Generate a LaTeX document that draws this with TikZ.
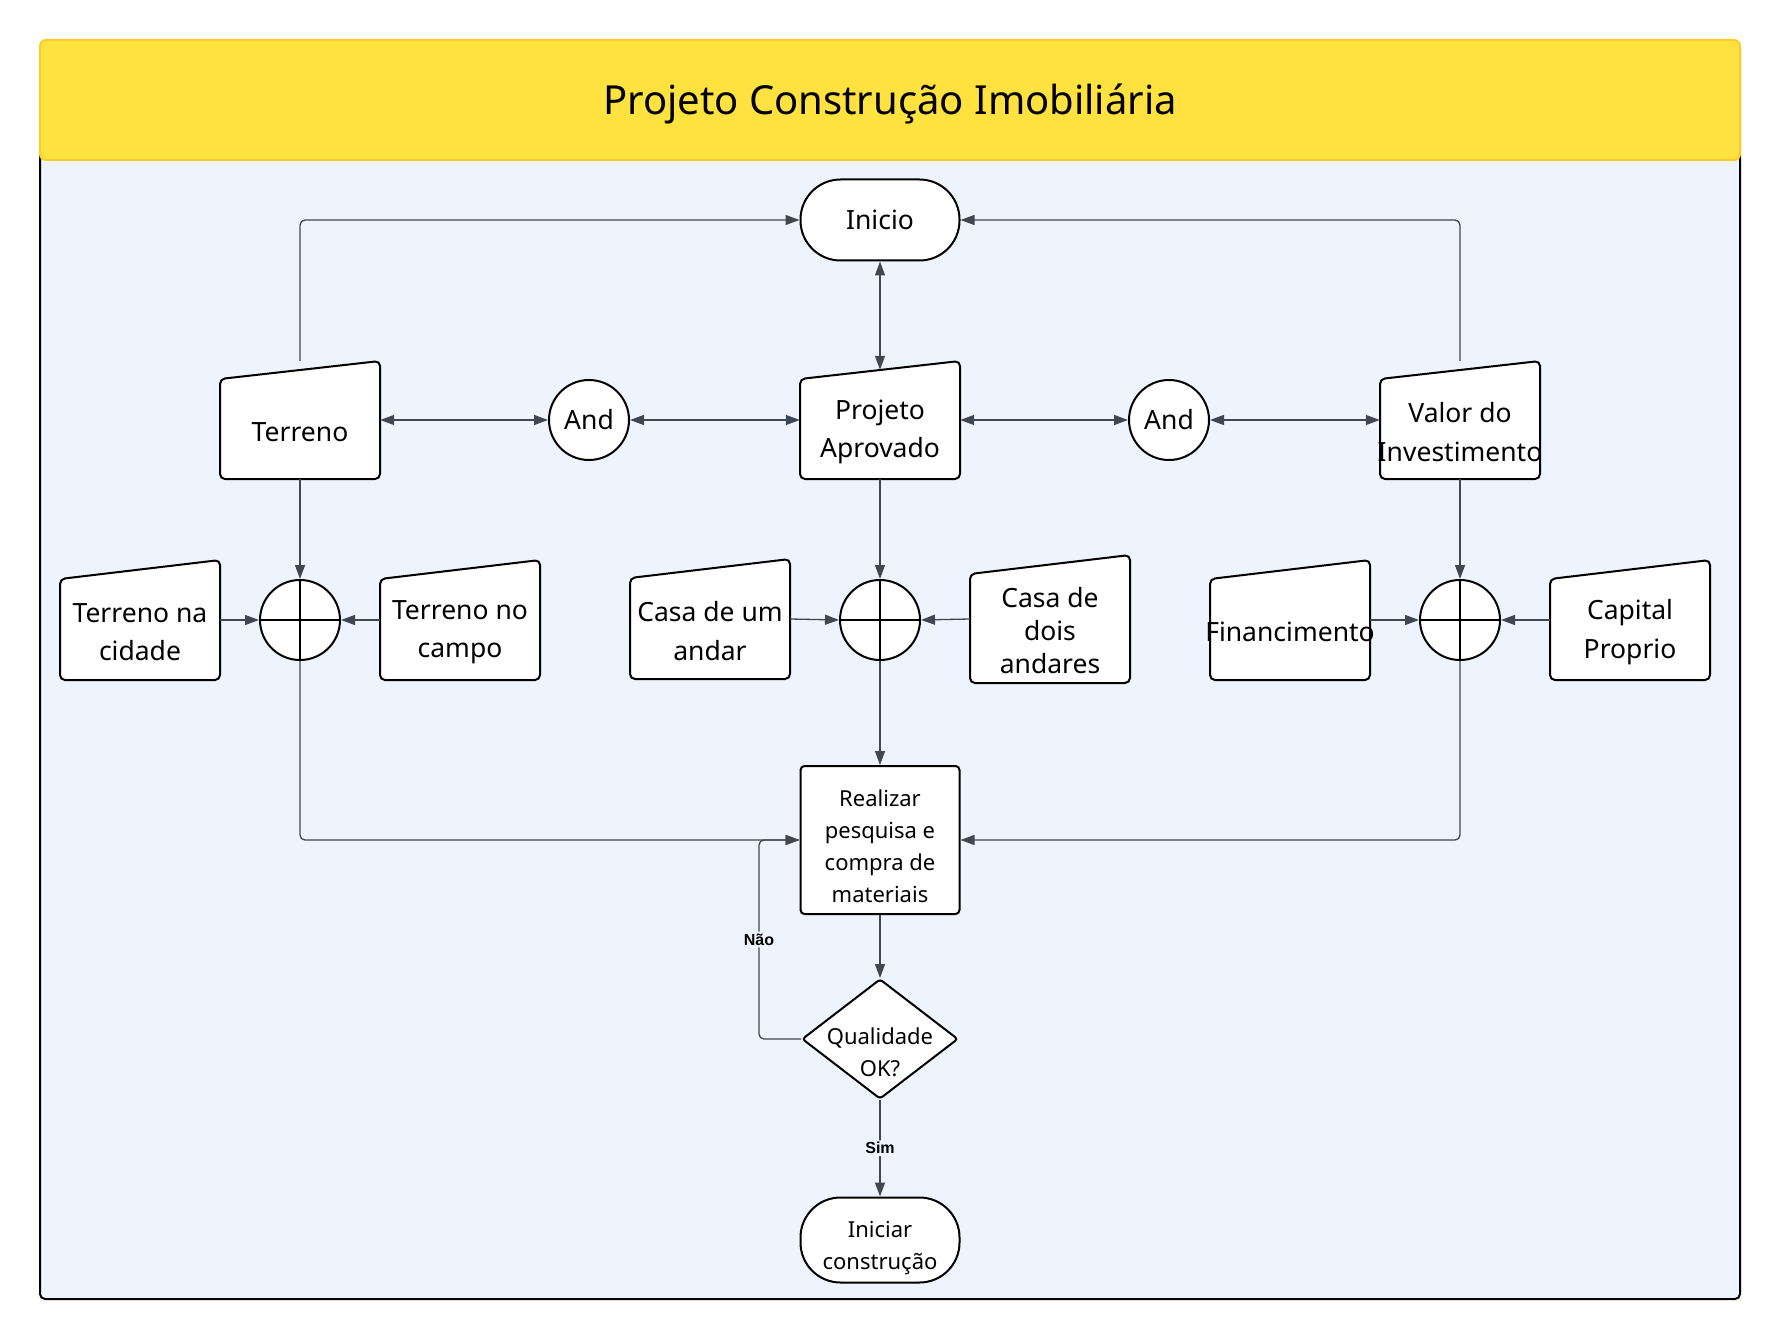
\documentclass[tikz,border=0pt]{standalone}
\usepackage{fontspec}
\setmainfont{Noto Sans}
\newfontfamily\lblfont{Liberation Sans}
\usetikzlibrary{arrows.meta,shapes.geometric,calc}
\definecolor{ttl}{HTML}{FFE13F}
\definecolor{ttlb}{HTML}{FBCB2B}
\definecolor{bgblue}{HTML}{EDF4FE}
\definecolor{ln}{HTML}{3F4753}
\tikzset{
  tip/.tip={Triangle[length=14pt,width=10pt]},
  conn/.style={draw=ln, line width=1.3pt, rounded corners=5pt, -tip},
  dconn/.style={draw=ln, line width=1.3pt, tip-tip},
  shp/.style={draw=black, line width=2pt, fill=white},
  invbox/.style={minimum width=160pt, inner sep=0pt, draw=none},
  txt/.style={align=center, inner sep=0pt, font=\fontsize{26.5}{38.5}\selectfont},
  smalltxt/.style={align=center, inner sep=0pt, font=\fontsize{22}{32}\selectfont},
  andc/.style={shp, circle, minimum size=80pt, inner sep=0pt, font=\fontsize{26.5}{30}\selectfont},
  plusc/.style={shp, circle, minimum size=80pt, inner sep=0pt},
  lbl/.style={fill=bgblue, inner sep=2pt, font=\lblfont\bfseries\fontsize{16}{18}\selectfont},
}
\newcommand{\MInput}[7][38.5]{%
  \draw[shp, rounded corners=5pt] (#3-80,#4+#5) -- (#3-80,#4-#5+#6) -- (#3+80,#4-#5) -- (#3+80,#4+#5) -- cycle;
  \node[invbox, minimum height={2*#5}] (#2) at (#3,#4) {};
  \node[txt, font=\fontsize{26.5}{#1}\selectfont] (#2-t) at (#3,#4+12) {#7};
}
\begin{document}
\begin{tikzpicture}[x=1pt,y=-1pt]
\useasboundingbox (0,0) rectangle (1780,1340);
\fill[white] (0,0) rectangle (1780,1340);
% containers
\draw[fill=bgblue, draw=black, line width=2pt, rounded corners=5pt] (40,150) rectangle (1740,1299);
\draw[fill=ttl, draw=ttlb, line width=2pt, rounded corners=6pt] (40,40) rectangle (1740,160);
\node[font=\fontsize{40}{44}\selectfont] (title) at (890,104) {Projeto Construção Imobiliária};

% top
\node[shp, rectangle, rounded corners=40pt, minimum width=159pt, minimum height=81pt, inner sep=0pt, font=\fontsize{26.5}{30}\selectfont] (inicio) at (880,220) {Inicio};

\MInput{terreno}{300}{420}{59}{18}{Terreno}
\node[andc] (and1) at (589,420) {And};
\MInput{projeto}{880}{420}{59}{18}{Projeto\\Aprovado}
\node[andc] (and2) at (1169,420) {And};
\MInput{valor}{1460}{420}{59}{18}{Valor do\\Investimento}

% second row
\MInput{tnc}{140}{620}{60}{19}{Terreno na\\cidade}
\node[plusc] (p1) at (300,620) {};
\MInput{tcampo}{460}{620}{60}{19}{Terreno no\\campo}
\MInput{casa1}{710}{619}{60}{19}{Casa de um\\andar}
\node[plusc] (p2) at (880,620) {};
\MInput[33]{casa2}{1050}{619}{64}{19}{Casa de\\dois\\andares}
\MInput{fin}{1290}{620}{60}{19}{Financimento}
\node[plusc] (p3) at (1460,620) {};
\MInput{cap}{1630}{620}{60}{19}{Capital\\Proprio}

\foreach \p in {p1,p2,p3}{
  \draw[black, line width=2pt] (\p.north) -- (\p.south) (\p.west) -- (\p.east);
}

% lower
\node[shp, rectangle, rounded corners=4pt, minimum width=159pt, minimum height=148pt, inner sep=0pt] (real) at (880,840) {};
\node[smalltxt] (real-t) at (880,846) {Realizar\\pesquisa e\\compra de\\materiais};
\node[shp, diamond, rounded corners=3pt, minimum width=156pt, minimum height=120pt, inner sep=0pt] (dq) at (880,1039) {};
\node[smalltxt] (dq-t) at (880,1052) {Qualidade\\OK?};
\node[shp, rectangle, rounded corners=40pt, minimum width=159pt, minimum height=85pt, inner sep=0pt] (ini2) at (880,1240) {};
\node[smalltxt] (ini2-t) at (880,1248) {Iniciar\\construção};

% connectors
\draw[conn] (terreno.north) |- (inicio.west);
\draw[conn] (valor.north) |- (inicio.east);
\draw[dconn] (inicio.south) -- ($(projeto.north)+(0,9)$);
\draw[dconn] (terreno.east) -- (and1.west);
\draw[dconn] (and1.east) -- (projeto.west);
\draw[dconn] (projeto.east) -- (and2.west);
\draw[dconn] (and2.east) -- (valor.west);

\draw[conn] (terreno.south) -- (p1.north);
\draw[conn] (projeto.south) -- (p2.north);
\draw[conn] (valor.south) -- (p3.north);

\draw[conn] (tnc.east) -- (p1.west);
\draw[conn] (tcampo.west) -- (p1.east);
\draw[conn] (casa1.east) -- (p2.west);
\draw[conn] (casa2.west) -- (p2.east);
\draw[conn] (fin.east) -- (p3.west);
\draw[conn] (cap.west) -- (p3.east);

\draw[conn] (p1.south) |- (real.west);
\draw[conn] (p2.south) -- (real.north);
\draw[conn] (p3.south) |- (real.east);
\draw[conn] (real.south) -- (dq.north);

\coordinate (naoc) at (759,1039);
\draw[conn] (dq.west) -- (naoc) |- node[pos=0.25, lbl] {Não} (real.west);
\draw[conn] (dq.south) -- node[lbl] {Sim} (ini2.north);
\end{tikzpicture}
\end{document}
